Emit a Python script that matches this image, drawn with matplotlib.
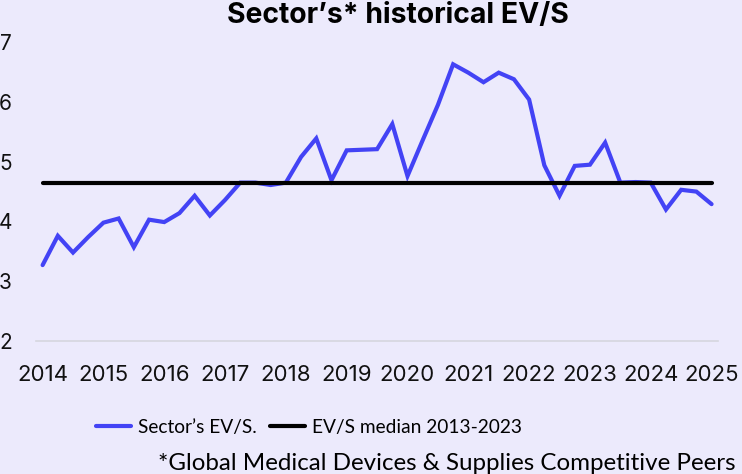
import matplotlib.pyplot as plt
import numpy as np

# Quarterly EV/S of the sector, 2014 Q1 .. 2025 Q1
ev_s = [3.27, 3.76, 3.48, 3.74, 3.98, 4.05, 3.57, 4.03, 3.99, 4.14,
        4.43, 4.10, 4.36, 4.65, 4.65, 4.61, 4.65, 5.08, 5.39, 4.69,
        5.19, 5.20, 5.21, 5.63, 4.76, 5.36, 5.95, 6.63, 6.49, 6.33,
        6.49, 6.38, 6.04, 4.94, 4.43, 4.93, 4.95, 5.32, 4.65, 4.66,
        4.65, 4.20, 4.53, 4.50, 4.29]
median_2013_2023 = 4.65
years = list(range(2014, 2026))
y_ticks = [2, 3, 4, 5, 6, 7]

bg = '#ECEAFC'
blue = '#4343F5'

t = 2014 + np.arange(len(ev_s)) / 4.0

fig = plt.figure(figsize=(7.42, 4.74), dpi=100, facecolor=bg)
ax = fig.add_axes([0.048, 0.2806, 0.92, 0.6304], facecolor=bg)

ax.plot(t, ev_s, color=blue, lw=3, solid_joinstyle='miter',
        solid_capstyle='round', label='Sector\u2019s EV/S.')
ax.plot([t[0], t[-1]], [median_2013_2023] * 2, color='black', lw=3,
        solid_capstyle='round', label='EV/S median 2013-2023')

ax.set_xlim(2014 - 0.115, 2025 + 0.11)
ax.set_ylim(2, 7)
ax.set_xticks(years)
ax.set_xticklabels([str(y) for y in years], fontfamily='Inter', fontsize=16)
ax.set_yticks(y_ticks)
ax.set_yticklabels([str(v) for v in y_ticks], fontfamily='Inter', fontsize=15)
ax.tick_params(axis='both', length=0, colors='#111111')
ax.tick_params(axis='x', pad=17)
ax.tick_params(axis='y', pad=17)

for side in ['top', 'right', 'left']:
    ax.spines[side].set_visible(False)
ax.spines['bottom'].set_color('#D6D6DE')
ax.spines['bottom'].set_linewidth(1.2)

fig.text(0.536, 0.995, 'Sector\u2019s* historical EV/S', ha='center', va='top',
         fontfamily='Inter', fontweight='bold', fontsize=20.4)

fig.legend(loc='center left', bbox_to_anchor=(0.129, 1 - 427 / 474), ncol=2,
           frameon=False, prop={'family': 'Lato', 'size': 13.8},
           handlelength=1.85, handletextpad=0.36, columnspacing=0.68,
           borderpad=0, borderaxespad=0)

fig.text(158 / 742, 1 - 463 / 474, '*Global Medical Devices & Supplies Competitive Peers',
         ha='left', va='center', fontfamily='Lato', fontsize=17.4)

fig.savefig('out.png', dpi=100, facecolor=bg)
